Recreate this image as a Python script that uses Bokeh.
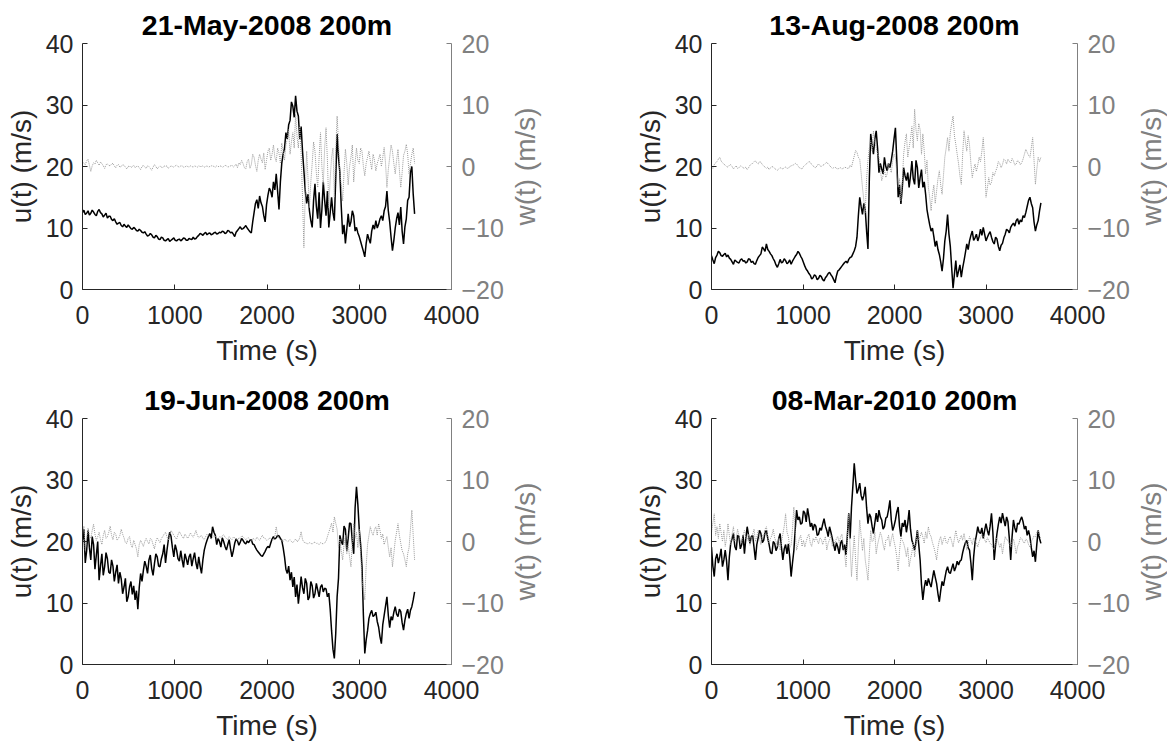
from bokeh.plotting import figure
from bokeh.models import Range1d, LinearAxis, FixedTicker
from bokeh.layouts import column, row
from bokeh.embed import file_html
from bokeh.resources import INLINE

# sample times (s), every 15 s from 0 to 3600
time_s = list(range(0, 3601, 15))

titles = ["21-May-2008 200m", "13-Aug-2008 200m", "19-Jun-2008 200m", "08-Mar-2010 200m"]
x_ticks = [0, 1000, 2000, 3000, 4000]
u_ticks = [0, 10, 20, 30, 40]
w_ticks = [-20, -10, 0, 10, 20]

# each row = 300 s (20 samples)
u_may = [12.5, 12.9, 12.2, 12.4, 12.8, 12.1, 12.4, 12.9, 12.6, 12.2, 12.0, 12.7, 13.0, 12.5, 12.3, 11.8, 12.1, 12.4, 11.6, 11.9,
         11.9, 11.4, 11.2, 11.5, 11.0, 10.6, 10.8, 10.9, 10.4, 10.2, 10.6, 10.3, 10.1, 10.5, 10.2, 9.9, 9.8, 10.1, 9.9, 9.6,
         9.5, 9.8, 9.6, 9.3, 9.2, 9.4, 9.0, 8.7, 8.8, 9.1, 8.9, 8.5, 8.4, 8.8, 8.6, 8.2, 8.1, 8.5, 8.4, 8.0,
         7.9, 8.1, 8.3, 7.8, 8.0, 8.2, 8.4, 8.0, 7.9, 8.1, 8.2, 7.9, 8.1, 8.4, 8.3, 8.0, 8.0, 8.3, 8.2, 8.1,
         8.5, 8.2, 8.3, 8.6, 8.8, 9.1, 9.0, 8.8, 9.1, 9.3, 8.9, 9.1, 9.2, 8.9, 9.0, 9.2, 9.3, 9.0, 9.1, 9.3,
         9.2, 9.5, 9.4, 9.1, 9.2, 9.6, 9.5, 9.2, 9.3, 9.0, 8.6, 9.3, 9.6, 9.9, 10.2, 9.8, 9.9, 10.1, 10.4, 10.0,
         9.7, 9.4, 9.2, 11.0, 12.5, 14.0, 14.6, 13.2, 15.2, 14.1, 13.5, 12.0, 11.0, 13.8, 15.3, 16.5, 16.0, 15.0, 17.5, 16.2,
         18.8, 16.0, 13.0, 17.5, 20.5, 22.0, 23.0, 25.5, 24.5, 26.8, 27.5, 30.5, 29.8, 28.0, 31.5, 29.0, 28.2, 24.5, 26.5, 22.5,
         19.3, 16.0, 14.0, 15.5, 12.8, 11.2, 10.1, 14.5, 17.2, 13.5, 11.5, 15.8, 10.0, 13.0, 17.5, 14.5, 12.0, 16.0, 10.1, 12.5,
         15.0, 12.5, 11.2, 18.0, 25.3, 21.5, 19.0, 13.5, 9.0, 10.5, 7.5, 9.8, 12.3, 10.2, 11.0, 12.8, 12.0, 9.5, 10.1, 9.2,
         8.6, 7.8, 7.0, 6.2, 5.3, 7.5, 9.0, 8.2, 7.5, 9.5, 10.5, 9.8, 11.2, 10.0, 10.6, 11.5, 12.0, 11.2, 12.8, 13.5,
         16.0, 12.8, 11.0, 8.5, 6.3, 8.0, 10.0, 11.5, 12.5, 10.5, 13.4, 9.5, 7.4, 10.2, 11.5, 14.5, 15.0, 19.0, 20.0, 15.5,
         12.3]
w_may = [0.8, 0.5, 0.3, 0.9, 1.2, 0.2, -0.8, 0.1, 0.6, 0.4, 1.0, 0.6, 0.2, 0.7, 0.5, 0.1, -0.3, 0.3, 0.4, 0.2,
         0.1, 0.4, 0.5, 0.1, -0.2, 0.2, 0.3, -0.1, 0.0, 0.3, 0.2, -0.1, -0.4, 0.0, 0.1, -0.2, 0.0, 0.2, -0.2, 0.0,
         0.1, -0.2, -0.5, 0.0, 0.2, -0.1, -0.3, 0.1, 0.0, -0.3, -0.6, -0.1, 0.3, 0.0, -0.4, -0.1, 0.1, -0.1, -0.2, 0.1,
         0.0, 0.1, -0.3, -0.1, 0.1, 0.0, -0.1, 0.1, 0.2, 0.0, -0.1, 0.1, 0.1, -0.1, -0.1, 0.1, 0.0, -0.1, 0.1, 0.0,
         -0.1, 0.1, 0.0, -0.1, 0.1, 0.0, 0.0, 0.1, -0.1, 0.0, 0.1, -0.1, 0.0, 0.1, 0.1, 0.0, -0.1, 0.1, 0.0, 0.0,
         0.1, -0.1, 0.0, 0.2, 0.1, -0.1, 0.0, 0.1, 0.2, -0.1, 0.1, 0.4, -0.2, 0.6, 0.3, 1.0, 0.5, -0.2, -0.4, 0.8,
         1.2, -0.3, 0.3, 2.0, 1.5, 0.2, -0.8, 1.0, 2.0, 1.2, 0.6, 2.2, -0.5, 1.0, 2.5, 3.0, 1.0, 2.0, 3.5, 1.5,
         0.8, 3.0, 2.2, 0.5, 3.8, 2.5, 1.0, 3.5, 4.5, 6.0, 2.0, 4.0, 5.5, 3.0, 8.5, 5.0, 3.0, 6.5, 2.0, -5.0,
         -13.2, -4.0, 2.5, -2.0, -6.7, -2.5, 0.5, 4.0, 2.5, -1.0, -3.4, 1.5, 5.5, 0.0, -2.9, 3.0, 6.3, 1.0, -6.7, -2.0,
         1.5, 3.0, -5.0, 2.5, 8.2, 4.0, -1.0, -3.0, -5.6, -1.0, 2.8, 0.5, -3.0, 0.0, 1.5, 3.5, -2.5, 0.5, 3.0, 1.0,
         0.5, 3.0, 2.5, 0.0, -1.5, 0.5, 1.5, 2.5, 0.9, -0.5, 2.0, 1.0, -0.7, 0.5, 1.2, 2.0, 0.0, 1.5, 3.1, 0.5,
         -3.4, -0.5, 1.5, 3.5, 2.5, 0.5, -1.2, 1.0, 2.8, -0.5, -3.4, -1.0, 1.8, 2.5, 3.6, 2.0, -1.2, 0.5, 2.0, 3.0,
         0.5]

u_aug = [5.5, 4.8, 4.2, 5.2, 5.6, 6.2, 6.0, 5.5, 5.4, 5.7, 5.9, 5.3, 5.6, 5.1, 4.9, 4.5, 4.1, 4.8, 4.6, 4.4,
         4.3, 4.8, 5.0, 4.6, 4.7, 4.3, 4.5, 5.0, 4.9, 4.4, 4.6, 4.2, 4.1, 4.7, 5.2, 5.5, 5.8, 6.9, 6.6, 6.2,
         7.4, 6.5, 6.2, 5.8, 5.5, 5.0, 4.6, 4.0, 3.6, 4.2, 4.9, 4.3, 4.5, 5.0, 4.7, 4.2, 4.4, 4.8, 4.1, 4.6,
         5.0, 5.4, 5.7, 6.2, 5.9, 5.4, 5.0, 4.4, 3.8, 3.3, 3.0, 2.6, 2.3, 1.7, 1.9, 2.4, 2.2, 1.6, 1.8, 2.3,
         2.1, 1.6, 1.4, 1.9, 2.2, 2.6, 2.8, 2.4, 2.1, 1.6, 1.1, 2.2, 3.0, 3.2, 3.5, 3.8, 4.1, 4.4, 4.6, 4.3,
         4.9, 5.2, 5.3, 5.8, 6.3, 7.0, 8.5, 12.0, 15.0, 13.5, 12.2, 14.0, 13.0, 9.5, 6.6, 18.0, 25.3, 23.5, 22.0, 24.5,
         25.8, 23.0, 19.0, 20.5, 19.6, 18.8, 21.5, 20.0, 19.3, 20.5, 19.8, 21.0, 22.5, 24.5, 26.3, 21.0, 15.0, 17.0, 13.9, 16.5,
         19.8, 18.5, 17.7, 19.0, 16.6, 18.5, 20.9, 18.0, 17.1, 21.0, 19.8, 16.5, 18.2, 19.5, 16.6, 17.5, 15.5, 13.0, 11.7, 10.5,
         9.5, 10.0, 8.6, 7.0, 7.9, 6.5, 5.7, 4.5, 3.0, 5.0, 7.9, 9.5, 12.2, 9.0, 7.0, 3.5, 0.2, 2.5, 4.7, 2.0,
         3.0, 4.0, 2.0, 3.5, 4.7, 6.0, 7.4, 6.5, 7.9, 8.8, 9.5, 8.0, 8.4, 9.0, 7.9, 8.6, 9.8, 8.8, 10.1, 9.0,
         7.9, 8.5, 9.0, 9.4, 8.5, 7.8, 7.4, 8.5, 8.2, 7.0, 6.3, 7.2, 7.5, 8.4, 9.0, 9.8, 9.6, 9.2, 10.1, 10.5,
         10.8, 10.3, 11.2, 11.5, 10.6, 11.3, 11.0, 12.0, 11.7, 12.5, 13.5, 14.5, 15.0, 14.0, 13.3, 11.0, 9.5, 10.5, 11.2, 12.8,
         14.1]
w_aug = [0.0, -0.3, 0.3, 0.6, 0.8, 1.2, 1.5, 0.9, 0.6, 0.4, 0.2, 0.0, -0.1, 0.2, 0.3, 0.0, -0.4, -0.1, 0.1, -0.3,
         -0.2, 0.1, 0.0, -0.2, -0.3, -0.1, -0.5, -0.2, 0.2, 0.4, 0.5, 0.8, 0.9, 0.6, 0.4, 0.8, 0.7, 0.3, 0.1, -0.1,
         -0.3, -0.1, -0.5, -0.2, 0.0, -0.1, -0.3, -0.5, -0.6, -0.4, -0.2, -0.3, -0.4, -0.2, -0.1, -0.3, -0.3, 0.0, 0.1, 0.2,
         0.3, 0.5, 0.4, 0.1, -0.2, -0.3, -0.4, 0.0, 0.2, 0.4, 0.6, 0.8, 0.7, 0.3, 0.1, -0.1, -0.2, 0.2, 0.4, 0.1,
         0.0, 0.2, 0.3, 0.5, 0.7, 0.4, 0.2, -0.1, -0.3, -0.2, -0.1, -0.3, -0.4, -0.3, -0.2, -0.4, -0.3, -0.1, -0.2, -0.3,
         -0.3, 0.2, -0.1, 0.8, 1.7, 2.6, 2.3, 1.5, 1.2, -1.0, -3.4, -5.5, -7.5, -2.0, 1.0, 3.0, 4.2, 2.5, 5.8, 4.0,
         3.1, 2.0, 1.5, -0.5, -2.3, -1.5, -0.5, -1.8, -1.2, 0.5, -0.2, -1.0, 0.9, 2.0, 1.5, -1.0, -3.4, -2.0, -5.6, -2.5,
         2.0, 4.0, 5.3, 1.5, 3.1, 4.5, 6.5, 3.0, 9.3, 6.0, 4.2, 7.0, 6.0, 2.0, 5.3, 2.5, -1.2, 1.0, -3.4, -5.0,
         -7.2, -4.5, -3.0, -6.0, -4.0, -2.0, -0.7, -3.0, -4.5, -1.5, 1.5, 3.0, 4.7, 2.5, 5.5, 7.0, 8.2, 5.0, 3.6, 2.0,
         0.5, -1.5, -2.9, 2.0, 5.8, 4.0, 2.5, 5.0, 3.5, 0.5, -1.8, -0.5, 0.4, -0.8, 0.2, 1.5, 0.8, 2.5, 4.7, 1.0,
         -5.0, -3.5, -1.8, -3.0, -2.6, -1.0, -1.5, -0.8, -0.2, 0.8, 0.5, -0.2, 0.3, 1.2, 1.0, 0.4, 1.2, 0.8, 0.6, 1.3,
         0.9, 0.2, 0.4, 1.0, 0.8, 0.3, 0.6, 1.2, 2.0, 2.8, 2.3, 1.8, 1.5, 3.0, 4.7, 1.0, -2.9, -0.5, 1.5, 0.8,
         1.5]

u_jun = [20.2, 22.0, 16.5, 18.5, 21.8, 19.0, 17.0, 20.8, 19.5, 15.5, 17.8, 20.0, 13.7, 16.0, 18.0, 14.5, 15.9, 18.2, 17.2, 15.0,
         14.8, 17.0, 16.0, 13.5, 15.0, 16.2, 13.2, 15.0, 13.9, 11.5, 12.6, 14.0, 10.2, 11.0, 12.6, 13.5, 11.4, 12.8, 10.5, 12.0,
         9.0, 12.5, 14.8, 13.5, 15.3, 16.8, 16.0, 14.8, 17.0, 17.8, 15.6, 14.5, 16.4, 18.0, 17.5, 16.0, 15.9, 17.2, 18.0, 19.5,
         16.5, 18.5, 20.2, 21.5, 20.8, 19.0, 17.5, 19.5, 18.6, 17.2, 16.8, 18.5, 17.0, 15.8, 18.0, 17.2, 16.2, 17.5, 18.0, 16.0,
         17.2, 18.2, 16.5, 15.5, 17.5, 16.0, 14.8, 17.0, 18.6, 19.5, 20.2, 20.8, 21.3, 20.5, 22.4, 21.5, 21.0, 19.5, 20.5, 20.0,
         19.1, 20.6, 20.0, 19.2, 18.6, 19.5, 20.3, 18.8, 17.5, 18.5, 19.7, 20.4, 20.1, 19.4, 19.9, 20.5, 20.2, 19.8, 19.6, 20.1,
         19.8, 20.2, 20.3, 19.6, 19.5, 19.0, 18.6, 18.3, 18.0, 17.7, 17.6, 18.0, 18.4, 18.9, 19.2, 19.0, 19.7, 20.4, 20.8, 20.4,
         20.6, 21.0, 20.9, 20.5, 20.2, 19.0, 17.5, 15.5, 14.8, 16.0, 13.7, 15.0, 12.6, 14.2, 11.0, 13.0, 9.9, 12.0, 14.3, 12.5,
         11.5, 14.0, 13.2, 10.5, 11.0, 13.5, 12.8, 10.8, 11.5, 13.2, 12.1, 11.0, 12.6, 13.0, 11.8, 12.4, 12.3, 11.0, 11.6, 9.0,
         5.5, 2.5, 1.0, 5.0, 11.0, 14.0, 21.0, 20.0, 19.5, 22.5, 22.0, 18.5, 20.5, 23.0, 22.9, 20.0, 18.0, 25.5, 28.9, 26.0,
         22.0, 19.5, 15.9, 8.0, 1.8, 4.0, 5.5, 7.5, 8.3, 8.8, 7.8, 8.0, 8.5, 7.0, 6.1, 4.5, 3.4, 6.5, 8.0, 9.5,
         11.0, 8.0, 6.0, 7.8, 7.2, 8.5, 9.4, 8.2, 7.8, 9.0, 8.6, 6.8, 5.6, 7.2, 8.3, 9.0, 7.5, 8.8, 9.4, 10.5,
         11.8]
w_jun = [1.0, 2.5, -1.5, 0.5, 2.2, 1.0, 0.5, 1.8, 2.8, 1.2, 0.2, 0.8, 1.5, 0.3, -0.5, 1.0, 1.8, 0.5, 0.8, 1.5,
         2.5, 1.0, 0.3, 1.5, 1.2, 0.2, 0.5, 1.0, 2.0, 1.2, 0.6, -0.2, -0.3, 0.5, 0.8, -0.5, -1.0, 0.2, -0.5, -1.2,
         -2.5, -0.5, 0.2, -0.3, -0.8, 0.0, 0.5, 0.0, -0.4, 0.5, 0.3, -0.5, -1.2, 0.0, 0.6, 0.2, -0.2, 0.5, 0.8, 1.2,
         1.5, 0.8, 0.2, 1.0, 1.8, 1.4, 1.0, 0.6, 0.4, 1.1, 1.6, 1.2, 0.8, 0.5, 1.2, 0.9, 0.5, 0.9, 1.4, 1.0,
         0.7, 1.2, 1.8, 1.0, 0.6, 0.8, 1.0, 0.5, 0.3, 0.8, 1.2, 0.9, 0.8, 0.4, 0.6, 1.0, 0.9, 0.6, 0.4, 0.8,
         0.7, 0.9, 1.1, 0.7, 0.5, 0.3, 0.8, 0.5, 0.3, 0.7, 0.6, 0.4, 0.2, 0.6, 0.5, 0.9, 0.8, 0.5, 0.3, 0.5,
         0.6, 0.3, 0.1, 0.5, 0.4, 0.2, 0.7, 0.4, 0.2, 0.6, 1.0, 0.6, 0.5, 0.2, 0.3, 0.5, 0.6, 0.3, 0.2, 0.8,
         2.4, 1.0, 0.5, 0.3, 0.2, 0.0, 0.4, 0.2, 0.0, 0.1, 0.3, 0.0, -0.2, 0.1, 0.4, 0.0, 0.1, 0.6, 1.6, 0.3,
         -0.1, -0.2, -0.3, -0.4, -0.2, -0.3, -0.4, -0.2, -0.1, -0.3, -0.3, -0.5, -0.2, -0.3, -0.4, -0.2, 0.0, 0.8, 1.5, 2.2,
         3.0, 1.5, 4.0, 3.0, 2.0, -1.0, 0.5, -1.5, -3.0, -0.5, 1.0, -2.0, -0.5, -2.5, -4.1, 0.0, 2.9, 0.5, 1.5, -1.0,
         2.0, -2.0, -6.3, -8.0, -9.5, -4.0, -0.5, 1.0, 2.4, 1.5, 1.0, 2.0, 2.4, 1.0, 2.9, 1.8, 0.5, 1.2, -0.5, 0.2,
         0.8, -1.0, -2.5, -1.0, -4.1, -2.0, 0.2, 1.5, 2.9, 1.0, -0.3, -1.5, -2.0, -3.0, -4.1, -2.0, -1.0, 2.0, 5.1, 1.0,
         -3.0]

u_mar = [19.1, 16.0, 14.3, 17.2, 18.0, 16.5, 17.5, 18.8, 15.9, 17.0, 18.6, 16.8, 13.7, 17.5, 19.7, 20.5, 21.3, 19.2, 18.6, 21.0,
         20.8, 18.8, 19.5, 21.0, 18.0, 20.5, 22.4, 21.0, 19.7, 20.8, 21.0, 19.0, 17.0, 19.5, 20.6, 21.8, 21.3, 19.8, 20.2, 21.5,
         21.8, 20.5, 19.5, 18.2, 18.0, 20.0, 19.7, 18.5, 19.1, 20.5, 21.3, 19.0, 17.0, 18.8, 19.5, 18.0, 19.6, 17.5, 14.3, 16.5,
         18.5, 22.0, 25.1, 23.5, 24.0, 22.8, 23.0, 25.0, 24.6, 23.2, 25.4, 24.0, 22.4, 23.0, 21.8, 22.8, 22.5, 21.0, 21.2, 22.2,
         21.8, 22.8, 23.7, 22.5, 21.8, 20.8, 22.4, 21.5, 20.5, 19.5, 18.5, 19.8, 19.1, 18.0, 19.7, 20.2, 18.6, 19.5, 17.8, 21.0,
         24.6, 20.5, 25.6, 29.0, 32.7, 30.0, 27.8, 28.5, 29.5, 27.5, 26.7, 27.5, 28.9, 25.5, 22.9, 24.5, 24.0, 22.5, 21.3, 23.0,
         24.6, 23.2, 25.1, 24.0, 23.5, 22.0, 22.4, 23.8, 24.0, 25.2, 26.7, 23.5, 21.8, 22.5, 23.5, 24.8, 25.6, 22.5, 20.8, 23.0,
         22.4, 23.5, 21.5, 23.0, 25.1, 22.0, 20.2, 19.5, 18.6, 20.0, 21.8, 19.5, 17.0, 13.0, 10.5, 12.5, 13.7, 12.8, 14.0, 13.2,
         12.6, 14.0, 15.3, 14.2, 13.2, 11.5, 10.2, 12.0, 13.5, 12.8, 14.0, 15.2, 15.9, 15.0, 14.8, 15.6, 16.4, 15.2, 15.8, 16.8,
         16.2, 16.8, 17.0, 18.2, 19.1, 19.8, 20.2, 19.0, 18.6, 16.5, 13.7, 17.5, 19.8, 21.0, 22.4, 21.5, 21.3, 22.2, 20.5, 21.8,
         22.9, 21.8, 21.0, 22.5, 24.6, 21.5, 17.0, 19.5, 21.3, 22.8, 24.0, 23.0, 24.6, 23.5, 22.5, 24.0, 23.2, 20.5, 17.0, 20.8,
         23.5, 22.2, 21.5, 23.0, 22.8, 23.5, 24.0, 23.2, 22.0, 22.5, 21.0, 21.8, 20.8, 19.0, 17.5, 18.5, 16.7, 19.5, 21.8, 20.5,
         19.7]
w_mar = [1.5, 3.0, 4.5, 1.0, 2.4, 0.5, 2.9, 1.5, 0.0, 1.8, -0.8, 0.5, 2.9, 1.0, -0.5, 1.2, 2.4, 0.0, 0.5, 2.0,
         1.0, 0.0, -0.3, 1.0, 1.8, 0.5, 0.2, 1.2, -0.6, 0.4, 1.2, 2.0, 0.0, 0.8, 1.8, 0.6, -0.5, 1.0, 0.8, 2.0,
         2.4, 0.8, -0.3, 0.5, 1.0, 2.0, 0.6, 0.0, -0.8, 0.5, -1.4, 0.0, 1.2, 2.5, 4.5, 1.5, 0.8, -1.0, -0.6, 2.0,
         5.6, 1.5, -1.4, -0.5, 0.5, 1.0, -0.8, 0.2, -0.9, 0.0, 0.8, 1.2, -0.3, -0.8, 0.5, 0.0, 0.8, 0.2, -0.4, 0.6,
         0.4, -0.5, 0.2, 0.8, -1.4, -0.3, 0.3, 1.0, -0.8, 0.2, -0.4, 0.5, 0.8, -0.2, 0.7, 1.2, -0.5, -2.0, -4.1, 0.5,
         4.5, -1.0, -5.7, -2.0, 1.0, -3.0, -6.3, -1.0, 3.5, 1.0, -1.5, 0.5, -3.0, -4.5, -6.3, -2.0, 1.8, 0.0, 0.2, 1.5,
         -2.0, -0.5, 0.5, 1.5, 0.8, -0.5, -1.4, 0.2, 0.3, 1.0, -0.8, 0.4, 1.3, 0.0, -1.0, -2.5, -4.7, -1.5, 0.8, 0.2,
         -0.3, -1.2, -2.5, -1.0, -4.1, -2.8, -1.8, 0.0, -2.5, -0.5, 1.8, 0.2, 0.8, 1.5, 0.7, -0.3, 1.6, 0.5, 2.4, 1.2,
         0.8, -0.2, -0.9, -1.8, -3.0, -1.0, 0.2, 0.8, -0.5, 0.3, 0.8, -0.2, -0.3, 0.5, 0.8, 0.0, -0.9, 0.5, 1.8, 0.6,
         -0.2, 0.4, 1.0, 0.2, 1.3, 0.0, -1.4, -0.3, 0.8, 0.2, -0.5, 0.6, 0.3, -0.2, -0.9, 0.0, 0.6, 1.2, 0.8, 0.3,
         -0.2, 0.6, 0.2, -0.3, -0.5, -1.0, -1.4, 0.0, 0.6, -0.2, -1.0, -0.3, -2.0, -0.5, 0.8, 0.3, 0.2, -0.4, -0.9, 0.0,
         0.4, -0.6, -2.0, -0.8, -0.3, 0.6, 0.5, 0.0, -0.3, 0.4, 0.2, -0.5, -0.9, 0.0, 0.4, 0.9, 0.8, 1.5, 1.8, 1.0,
         0.5]

FONT = "Liberation Sans"
DARK = "#262626"
GREY = "#808080"
WLINE = "#9a9a9a"
FRAME_H = 246


def style_axis(ax, color, ticks):
    ax.ticker = FixedTicker(ticks=ticks)
    ax.axis_line_color = color
    ax.major_tick_line_color = color
    ax.major_tick_in = 5
    ax.major_tick_out = 0
    ax.minor_tick_line_color = None
    ax.major_label_text_font = FONT
    ax.major_label_text_font_size = "25px"
    ax.major_label_text_color = color
    ax.axis_label_text_font = FONT
    ax.axis_label_text_font_size = "28px"
    ax.axis_label_text_font_style = "normal"
    ax.axis_label_text_color = color


def panel(title, u, w, left, right, top, bottom, fw):
    n = min(len(time_s), len(u), len(w))
    p = figure(frame_width=fw, frame_height=FRAME_H,
               min_border_left=left, min_border_right=right,
               min_border_top=top, min_border_bottom=bottom,
               x_range=Range1d(0, 4000), y_range=Range1d(0, 40),
               output_backend="svg", toolbar_location=None,
               title=title)
    p.extra_y_ranges = {"w": Range1d(-20, 20)}
    p.xgrid.visible = False
    p.ygrid.visible = False
    p.outline_line_color = None
    p.background_fill_color = "white"
    p.border_fill_color = "white"
    p.title.text_font = FONT
    p.title.text_font_size = "28.5px"
    p.title.text_font_style = "bold"
    p.title.text_color = "black"
    p.title.align = "center"
    p.title.standoff = 5

    p.line(time_s[:n], u[:n], color="black", line_width=1.5)
    p.line(time_s[:n], w[:n], y_range_name="w", color=WLINE,
           line_width=1, line_dash="1 1")

    style_axis(p.xaxis[0], DARK, x_ticks)
    p.xaxis[0].axis_label = "Time (s)"
    p.xaxis[0].major_label_standoff = 16
    p.xaxis[0].axis_label_standoff = 8

    style_axis(p.yaxis[0], DARK, u_ticks)
    p.yaxis[0].axis_label = "u(t) (m/s)"
    p.yaxis[0].major_label_standoff = 9
    p.yaxis[0].axis_label_standoff = 6

    rax = LinearAxis(y_range_name="w")
    style_axis(rax, GREY, w_ticks)
    rax.major_label_standoff = 10
    p.add_layout(rax, "right")
    return p


def w_title(left, right, top, bottom):
    # narrow strip that carries the right-hand title "w(t) (m/s)",
    # drawn as a left-axis title so that it reads bottom-to-top
    d = figure(frame_width=1, frame_height=FRAME_H,
               min_border_left=left, min_border_right=right,
               min_border_top=top, min_border_bottom=bottom,
               x_range=Range1d(0, 1), y_range=Range1d(-20, 20),
               x_axis_location=None, y_axis_location=None,
               output_backend="svg", toolbar_location=None)
    d.xgrid.visible = False
    d.ygrid.visible = False
    d.outline_line_color = None
    d.background_fill_color = "white"
    d.border_fill_color = "white"
    ax = LinearAxis(axis_label="w(t) (m/s)", ticker=FixedTicker(ticks=[]))
    ax.axis_line_color = None
    ax.major_tick_line_color = None
    ax.minor_tick_line_color = None
    ax.axis_label_text_font = FONT
    ax.axis_label_text_font_size = "28px"
    ax.axis_label_text_font_style = "normal"
    ax.axis_label_text_color = GREY
    ax.axis_label_standoff = 0
    d.add_layout(ax, "left")
    return d


p1 = panel(titles[0], u_may, w_may, 82, 55, 43, 83, 369)    # 0 .. 506
d1 = w_title(34, 43, 43, 83)                                 # 506 .. 584
p2 = panel(titles[1], u_aug, w_aug, 127, 55, 43, 83, 366)   # 584 .. 1132
d2 = w_title(34, 0, 43, 83)                                  # 1132 .. 1167
p3 = panel(titles[2], u_jun, w_jun, 82, 55, 46, 80, 369)
d3 = w_title(34, 43, 46, 80)
p4 = panel(titles[3], u_mar, w_mar, 127, 55, 46, 80, 366)
d4 = w_title(34, 0, 46, 80)

layout = column(row(p1, d1, p2, d2), row(p3, d3, p4, d4))
open("out.html", "w").write(file_html(layout, INLINE))
